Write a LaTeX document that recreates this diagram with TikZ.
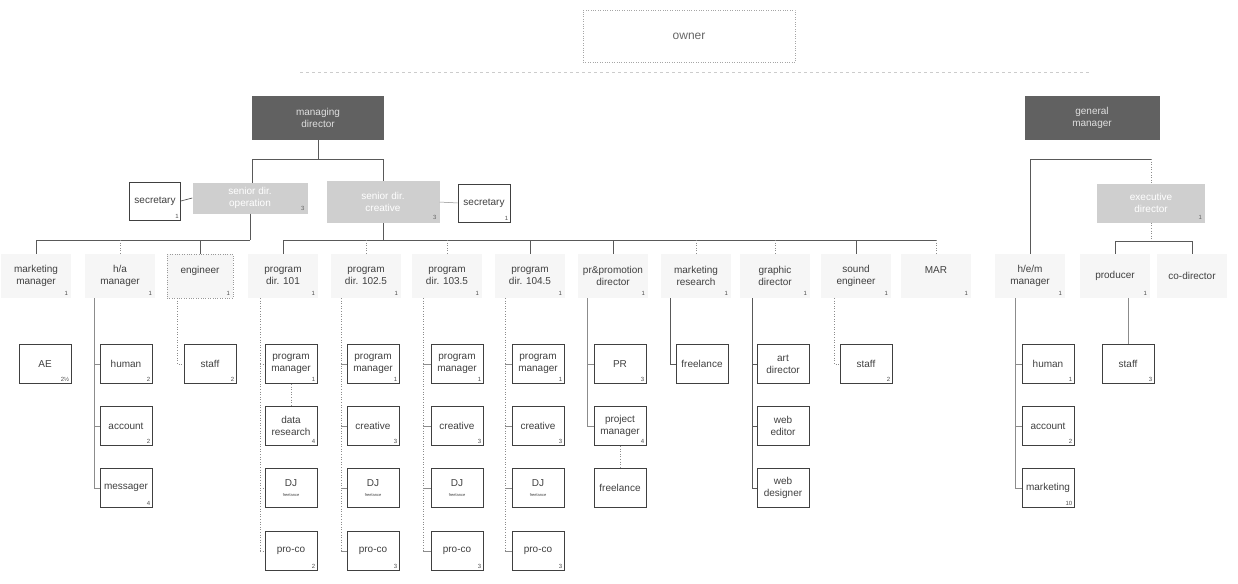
\documentclass[tikz,border=0pt]{standalone}
\usepackage{fontspec}
\setmainfont{Liberation Sans}
\usetikzlibrary{calc}
\newcommand\leafnode[5]{\node[leaf] (#1) at (#2,#3) {#4};
  \node[num] (#1n) at ($(#1.south east)+(-2,-2)$) {#5};}
\newcommand\lvlnode[5]{\node[lvl,#5] (#1) at (#2,276) {#3};
  \node[num] (#1n) at ($(#1.south east)+(-3,-3)$) {#4};}
\begin{document}
\begin{tikzpicture}[x=1pt,y=-1pt,font=\fontsize{10}{12}\selectfont,
  leaf/.style={draw=black!75,line width=0.8pt,fill=white,minimum width=52pt,minimum height=39pt,inner sep=1pt,align=center,text=black!75},
  lvl/.style={fill=gray!7,minimum width=70pt,minimum height=44pt,inner sep=1pt,align=center,text=black!75},
  dark/.style={fill=black!62,text=gray!25,minimum width=132pt,minimum height=44pt,align=center},
  senior/.style={fill=gray!38,text=white,align=center},
  num/.style={font=\fontsize{6}{6}\selectfont,text=black!70,inner sep=0pt,anchor=south east},
  tiny/.style={font=\fontsize{4}{4}\selectfont},
  bar/.style={draw=black!65,line width=0.7pt},
  dot/.style={draw=black!45,dotted,line width=0.6pt},
  thin/.style={draw=black!45,line width=0.5pt},
  faint/.style={draw=black!20,dashed,line width=0.5pt}]
\useasboundingbox (0,0) rectangle (1238,583);

% owner
\node[draw=black!35,dotted,minimum width=212pt,minimum height=52pt,text=black!60,font=\fontsize{12}{14}\selectfont] (owner) at (689,36) {owner};
\coordinate (ownL) at (300,72);
\coordinate (ownR) at (1090,72);
\draw[faint] (ownL) -- (ownR);

% top level
\node[dark] (md) at (318,118) {managing\\director};
\node[dark,minimum width=135pt] (gm) at (1092,118) {general\\manager};

% senior level
\node[senior,minimum width=115pt,minimum height=31pt] (sop) at (250,198) {senior dir.\\operation};
\node[num,text=black!60] (sopn) at ($(sop.south east)+(-3,-3)$) {3};
\node[senior,minimum width=113pt,minimum height=42pt] (scr) at (383,202) {senior dir.\\creative};
\node[num,text=black!60] (scrn) at ($(scr.south east)+(-3,-3)$) {3};
\node[senior,minimum width=108pt,minimum height=39pt] (exd) at (1151,203) {executive\\director};
\node[num,text=black!60] (exdn) at ($(exd.south east)+(-3,-3)$) {1};
\node[leaf,minimum width=51pt,minimum height=38pt] (sec1) at (155,201) {secretary};
\node[num] (sec1n) at ($(sec1.south east)+(-2,-2)$) {1};
\node[leaf,minimum width=52pt,minimum height=38pt] (sec2) at (484,203) {secretary};
\node[num] (sec2n) at ($(sec2.south east)+(-2,-2)$) {1};

\draw[bar] (md.south) -- (318,159);
\draw[bar] (252,159) -- (383,159);
\draw[bar] (252,159) -- (252,183);
\draw[bar] (383,159) -- (scr.north);
\draw[bar] (sec1.east) -- (sop.west);
\draw[thin] (scr.east) -- (sec2.west);

% level 3
\lvlnode{mm}{36}{marketing\\manager}{1}{}
\lvlnode{ha}{120}{h/a\\manager}{1}{}
\lvlnode{eng}{200}{engineer\\\phantom{x}}{1}{draw=black!40,dotted,minimum width=66pt}
\lvlnode{pa}{283}{program\\dir. 101}{1}{}
\lvlnode{pb}{366}{program\\dir. 102.5}{1}{}
\lvlnode{pc}{447}{program\\dir. 103.5}{1}{}
\lvlnode{pd}{530}{program\\dir. 104.5}{1}{}
\lvlnode{prd}{613}{pr\&promotion\\director}{1}{}
\lvlnode{mr}{696}{marketing\\research}{1}{}
\lvlnode{gd}{775}{graphic\\director}{1}{}
\lvlnode{se}{856}{sound\\engineer}{1}{}
\lvlnode{mar}{936}{MAR\\\phantom{x}}{1}{}
\lvlnode{hem}{1030}{h/e/m\\manager}{1}{}
\lvlnode{prod}{1115}{producer}{1}{}
\lvlnode{cod}{1192}{co-director}{}{}

% bars to level 3
\draw[bar] (sop.south -| 250,0) -- (250,240);
\draw[bar] (36,240) -- (250,240);
\draw[bar] (36,240) -- (mm.north);
\draw[dot] (120,240) -- (ha.north);
\draw[bar] (200,240) -- (eng.north);
\draw[bar] (scr.south) -- (383,240);
\draw[bar] (283,240) -- (936,240);
\draw[bar] (283,240) -- (pa.north);
\draw[dot] (366,240) -- (pb.north);
\draw[dot] (447,240) -- (pc.north);
\draw[bar] (530,240) -- (pd.north);
\draw[bar] (613,240) -- (prd.north);
\draw[dot] (696,240) -- (mr.north);
\draw[dot] (775,240) -- (gd.north);
\draw[bar] (856,240) -- (se.north);
\draw[dot] (936,240) -- (mar.north);

\draw[bar] (1030,159) -- (1151,159);
\draw[bar] (1030,159) -- (hem.north);
\draw[dot] (1151,159) -- (exd.north);
\draw[dot] (exd.south) -- (1151,241);
\draw[bar] (1115,241) -- (1192,241);
\draw[bar] (1115,241) -- (prod.north);
\draw[bar] (1192,241) -- (cod.north);

% level 4
\leafnode{ae}{45}{364}{AE}{2\textonehalf}
\leafnode{hahu}{126}{364}{human}{2}
\leafnode{haac}{126}{426}{account}{2}
\leafnode{hame}{126}{488}{messager}{4}
\leafnode{ens}{210}{364}{staff}{2}
\leafnode{pam}{291}{364}{program\\manager}{1}
\leafnode{padr}{291}{426}{data\\research}{4}
\leafnode{padj}{291}{488}{DJ\\[-2pt]{\fontsize{4}{4}\selectfont freelance}}{}
\leafnode{papc}{291}{551}{pro-co}{2}
\leafnode{pbm}{373}{364}{program\\manager}{1}
\leafnode{pbc}{373}{426}{creative}{3}
\leafnode{pbdj}{373}{488}{DJ\\[-2pt]{\fontsize{4}{4}\selectfont freelance}}{}
\leafnode{pbpc}{373}{551}{pro-co}{3}
\leafnode{pcm}{457}{364}{program\\manager}{1}
\leafnode{pcc}{457}{426}{creative}{3}
\leafnode{pcdj}{457}{488}{DJ\\[-2pt]{\fontsize{4}{4}\selectfont freelance}}{}
\leafnode{pcpc}{457}{551}{pro-co}{3}
\leafnode{pdm}{538}{364}{program\\manager}{1}
\leafnode{pdc}{538}{426}{creative}{3}
\leafnode{pddj}{538}{488}{DJ\\[-2pt]{\fontsize{4}{4}\selectfont freelance}}{}
\leafnode{pdpc}{538}{551}{pro-co}{3}
\leafnode{prpr}{620}{364}{PR}{3}
\leafnode{prpm}{620}{426}{project\\manager}{4}
\leafnode{prfl}{620}{488}{freelance}{}
\leafnode{mrfl}{702}{364}{freelance}{}
\leafnode{gdad}{783}{364}{art\\director}{}
\leafnode{gdwe}{783}{426}{web\\editor}{}
\leafnode{gdwd}{783}{488}{web\\designer}{}
\leafnode{ses}{866}{364}{staff}{2}
\leafnode{hehu}{1048}{364}{human}{1}
\leafnode{heac}{1048}{426}{account}{2}
\leafnode{hema}{1048}{488}{marketing}{10}
\leafnode{prs}{1128}{364}{staff}{3}

% trunks and ticks
\draw[thin] (94,298) -- (94,488);
\foreach \n in {hahu,haac,hame} \draw[thin] (94,0 |- \n.west) -- (\n.west);
\draw[dot] (177,298) -- (177,364) -- (ens.west);
\draw[dot] (260,298) -- (260,551);
\foreach \n in {pam,padj,papc} \draw[dot] (260,0 |- \n.west) -- (\n.west);
\draw[dot] (pam.south) -- (padr.north);
\draw[dot] (341,298) -- (341,551);
\foreach \n in {pbm,pbc,pbdj,pbpc} \draw[thin] (341,0 |- \n.west) -- (\n.west);
\draw[dot] (423,298) -- (423,551);
\foreach \n in {pcm,pcc,pcdj,pcpc} \draw[thin] (423,0 |- \n.west) -- (\n.west);
\draw[dot] (505,298) -- (505,551);
\foreach \n in {pdm,pdc,pddj,pdpc} \draw[thin] (505,0 |- \n.west) -- (\n.west);
\draw[thin] (587,298) -- (587,426);
\foreach \n in {prpr,prpm} \draw[thin] (587,0 |- \n.west) -- (\n.west);
\draw[dot] (prpm.south) -- (prfl.north);
\draw[bar] (670,298) -- (670,364) -- (mrfl.west);
\draw[bar] (752,298) -- (752,488);
\foreach \n in {gdad,gdwe,gdwd} \draw[bar] (752,0 |- \n.west) -- (\n.west);
\draw[dot] (834,298) -- (834,364) -- (ses.west);
\draw[thin] (1015,298) -- (1015,488);
\foreach \n in {hehu,heac,hema} \draw[thin] (1015,0 |- \n.west) -- (\n.west);
\draw[thin] (prs.north |- prod.south) -- (prs.north);
\end{tikzpicture}
\end{document}
